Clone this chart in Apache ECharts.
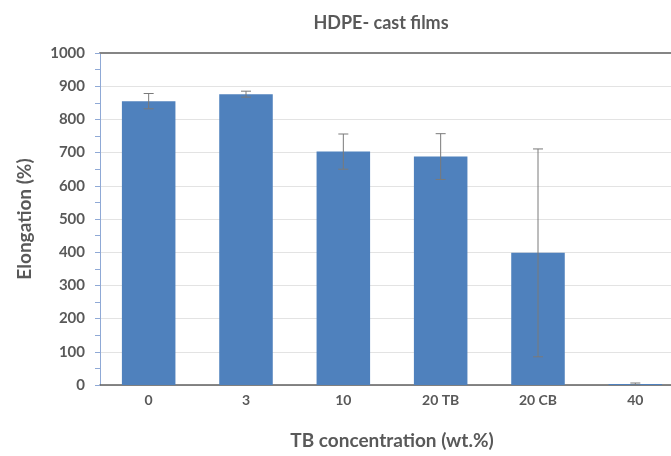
<!DOCTYPE html>
<html>
<head>
<meta charset="utf-8">
<script src="https://cdn.jsdelivr.net/npm/echarts@6/dist/echarts.min.js"></script>
<style>html,body{margin:0;padding:0;background:#fff}#c{width:671px;height:456px}</style>
</head>
<body>
<div id="c"></div>
<script>
const categories = ['0', '3', '10', '20 TB', '20 CB', '40'];
const elongation = [855, 876, 703, 688, 398, 3];
const errorPlusMinus = [23, 9, 53, 69, 313, 3];
const yTicks = { min: 0, max: 1000, interval: 100 };

const FONT = 'Lato';
const TXT = '#595959';

const chart = echarts.init(document.getElementById('c'));
chart.setOption({
  animation: false,
  backgroundColor: '#ffffff',
  title: {
    text: 'HDPE- cast films',
    left: 376, top: 9, textAlign: 'center',
    textStyle: { fontFamily: FONT, fontSize: 18, fontWeight: 'bold', color: TXT }
  },
  grid: { left: 100, top: 53, bottom: 71, width: 584, containLabel: false, outerBoundsMode: 'none' },
  xAxis: [{
    type: 'category', data: categories,
    axisLine: { lineStyle: { color: '#606060', width: 1.5 } },
    axisTick: { show: false },
    axisLabel: { fontFamily: FONT, fontSize: 14, fontWeight: 'bold', color: TXT, margin: 8 },
    name: 'TB concentration (wt.%)', nameLocation: 'middle', nameGap: 46,
    nameTextStyle: { fontFamily: FONT, fontSize: 19, fontWeight: 'bold', color: TXT }
  }, {
    type: 'category', data: categories, position: 'top',
    axisLine: { show: true, lineStyle: { color: '#858585', width: 2 } },
    axisTick: { show: false }, axisLabel: { show: false }
  }],
  yAxis: {
    type: 'value', min: yTicks.min, max: yTicks.max, interval: yTicks.interval,
    axisLine: { show: true, lineStyle: { color: '#8fa9d6', width: 1 } },
    axisTick: { show: true, length: 5, lineStyle: { color: '#8fa9d6' } },
    minorTick: { show: true, splitNumber: 2, length: 5, lineStyle: { color: '#8fa9d6' } },
    splitLine: { lineStyle: { color: '#e3e3e3', width: 1 } },
    axisLabel: { fontFamily: FONT, fontSize: 15, fontWeight: 'bold', color: TXT, margin: 15,
      formatter: v => String(v) },
    name: 'Elongation (%)', nameLocation: 'middle', nameGap: 66, nameRotate: 90,
    nameTextStyle: { fontFamily: FONT, fontSize: 19, fontWeight: 'bold', color: TXT }
  },
  series: [{
    type: 'bar', data: elongation, barWidth: '55%',
    itemStyle: { color: '#4f81bd' }
  }, {
    type: 'custom',
    data: elongation.map((v, i) => [i, v - errorPlusMinus[i], v + errorPlusMinus[i]]),
    renderItem: function (params, api) {
      const lo = api.coord([api.value(0), api.value(1)]);
      const hi = api.coord([api.value(0), api.value(2)]);
      const w = 5;
      const st = { stroke: '#7a7a7a', lineWidth: 1 };
      return {
        type: 'group',
        children: [
          { type: 'line', shape: { x1: hi[0], y1: hi[1], x2: lo[0], y2: lo[1] }, style: st },
          { type: 'line', shape: { x1: hi[0] - w, y1: hi[1], x2: hi[0] + w, y2: hi[1] }, style: st },
          { type: 'line', shape: { x1: lo[0] - w, y1: lo[1], x2: lo[0] + w, y2: lo[1] }, style: st }
        ]
      };
    },
    z: 10
  }]
});
</script>
</body>
</html>
